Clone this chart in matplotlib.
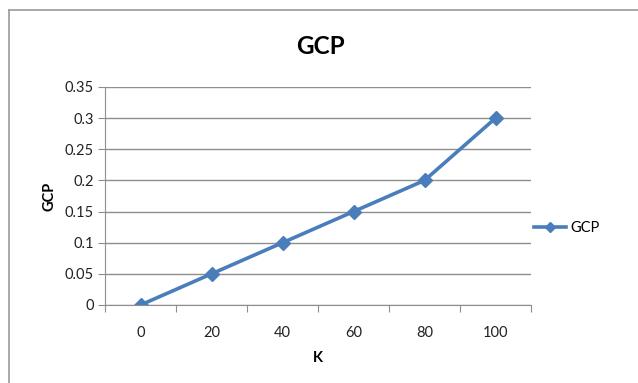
import matplotlib.pyplot as plt
from matplotlib.lines import Line2D

# chart data
k_values = ['0', '20', '40', '60', '80', '100']
gcp = [0, 0.05, 0.1, 0.15, 0.2, 0.3]
y_ticks = [0, 0.05, 0.1, 0.15, 0.2, 0.25, 0.3, 0.35]
y_labels = ['0', '0.05', '0.1', '0.15', '0.2', '0.25', '0.3', '0.35']

plt.rcParams['font.family'] = ['Lato', 'DejaVu Sans']

W, H = 638, 383
fig = plt.figure(figsize=(W / 100, H / 100), dpi=100)
ax = fig.add_axes([105 / W, (H - 305) / H, (531 - 105) / W, (305 - 87) / H])

blue = '#4a7ebb'
grid = '#8e8e8e'
x = list(range(len(k_values)))
ax.plot(x, gcp, color=blue, lw=2.6, marker='D', ms=7, label='GCP')

ax.set_xlim(-0.5, len(k_values) - 0.5)
ax.set_ylim(0, 0.35)
ax.set_yticks(y_ticks)
ax.set_yticklabels(y_labels, fontsize=10.5, color='#222222')
ax.set_xticks([i - 0.5 for i in range(len(k_values) + 1)])
ax.set_xticklabels([])
ax.set_xticks(x, minor=True)
ax.set_xticklabels(k_values, minor=True, fontsize=10.5, color='#222222')
ax.tick_params(axis='x', which='major', length=5, color=grid, direction='out')
ax.tick_params(axis='x', which='minor', length=0, pad=15)
ax.tick_params(axis='y', length=5, color=grid, pad=3)

ax.yaxis.grid(True, color=grid, lw=1)
ax.set_axisbelow(True)
for s in ['top', 'right']:
    ax.spines[s].set_visible(False)
for s in ['left', 'bottom']:
    ax.spines[s].set_color(grid)

ax.set_xlabel('K', fontsize=10.5, fontweight='bold', labelpad=8)
ax.set_ylabel('GCP', fontsize=10.5, fontweight='bold', labelpad=6)
fig.text(320 / W, 1 - 46 / H, 'GCP', fontsize=17.5, fontweight='bold',
         ha='center', va='center')

fig.legend(loc='center left', bbox_to_anchor=(521 / W, 1 - 228 / H),
           frameon=False, fontsize=10.5, handlelength=2.2, handletextpad=0.3,
           markerscale=0.75)

# outer chart frame
fig.add_artist(Line2D([8.5 / W, 8.5 / W], [0, 1 - 10 / H], color='#9a9a9a', lw=1.2))
fig.add_artist(Line2D([8.5 / W, 1], [1 - 10 / H, 1 - 10 / H], color='#9a9a9a', lw=1.2))

fig.savefig('out.png', dpi=100)
